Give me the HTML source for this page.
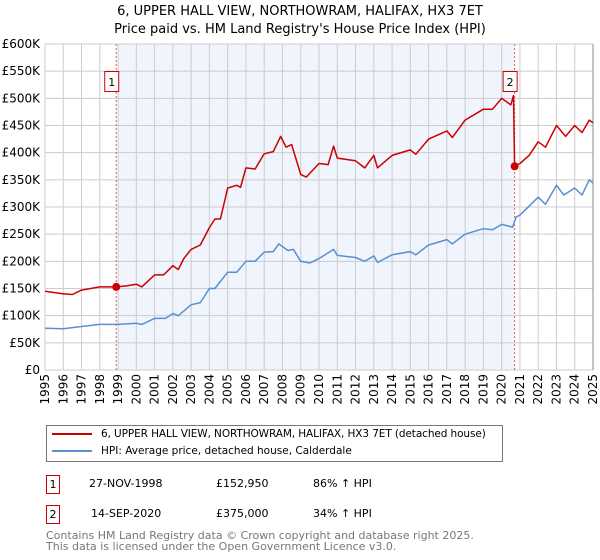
<!DOCTYPE html>
<html><head><meta charset="utf-8"><style>
body{margin:0;background:#fff;font-family:"DejaVu Sans","Liberation Sans",sans-serif;}
#wrap{position:relative;width:600px;height:560px;overflow:hidden;}
.t{position:absolute;white-space:nowrap;color:#000;}
</style></head><body>
<div id="wrap">
<div class="t" style="left:0;width:600px;text-align:center;top:3px;font-size:13px;line-height:18px;">6, UPPER HALL VIEW, NORTHOWRAM, HALIFAX, HX3 7ET<br>Price paid vs. HM Land Registry's House Price Index (HPI)</div>
<svg id="chart" width="600" height="420" style="position:absolute;left:0;top:0"></svg>
<div style="position:absolute;left:46px;top:425px;width:455px;height:35px;border:1px solid #777;">
 <div style="position:absolute;left:5px;top:2px;font-size:10.5px;white-space:nowrap;letter-spacing:-0.1px;"><span style="display:inline-block;width:40px;height:2px;background:#cc0000;vertical-align:middle;margin-right:9px"></span>6, UPPER HALL VIEW, NORTHOWRAM, HALIFAX, HX3 7ET (detached house)</div>
 <div style="position:absolute;left:5px;top:19px;font-size:10.5px;white-space:nowrap;"><span style="display:inline-block;width:40px;height:2px;background:#5b8fd0;vertical-align:middle;margin-right:9px"></span>HPI: Average price, detached house, Calderdale</div>
</div>
<div>
 <div class="t" style="left:46px;top:475px;width:12px;height:17px;border:1px solid #c00;text-align:center;font-size:11px;line-height:17px;">1</div>
 <div class="t" style="left:89px;top:477px;font-size:11px;">27-NOV-1998</div>
 <div class="t" style="left:216px;top:477px;font-size:11px;">£152,950</div>
 <div class="t" style="left:313px;top:477px;font-size:11px;">86% ↑ HPI</div>
</div>
<div>
 <div class="t" style="left:46px;top:505px;width:12px;height:17px;border:1px solid #c00;text-align:center;font-size:11px;line-height:17px;">2</div>
 <div class="t" style="left:91px;top:507px;font-size:11px;">14-SEP-2020</div>
 <div class="t" style="left:216px;top:507px;font-size:11px;">£375,000</div>
 <div class="t" style="left:313px;top:507px;font-size:11px;">34% ↑ HPI</div>
</div>
<div class="t" style="left:46px;top:530px;font-size:11px;line-height:11px;color:#777;">Contains HM Land Registry data © Crown copyright and database right 2025.<br>This data is licensed under the Open Government Licence v3.0.</div>
</div>
<script>
const yTicks=[0,50000,100000,150000,200000,250000,300000,350000,400000,450000,500000,550000,600000];
const yTickLabels=["£0","£50K","£100K","£150K","£200K","£250K","£300K","£350K","£400K","£450K","£500K","£550K","£600K"];
const years=[1995,1996,1997,1998,1999,2000,2001,2002,2003,2004,2005,2006,2007,2008,2009,2010,2011,2012,2013,2014,2015,2016,2017,2018,2019,2020,2021,2022,2023,2024,2025];
const hpiX=[1995,1996,1997,1998,1999,2000,2000.3,2001,2001.6,2002,2002.3,2003,2003.5,2004,2004.3,2005,2005.5,2006,2006.5,2007,2007.5,2007.8,2008.3,2008.6,2009,2009.5,2010,2010.8,2011,2012,2012.5,2013,2013.2,2014,2015,2015.3,2016,2017,2017.3,2018,2019,2019.5,2020,2020.6,2020.8,2021,2022,2022.4,2023,2023.4,2024,2024.4,2024.8,2025];
const hpiY=[77000,76000,80000,84000,84000,86000,84000,95000,95000,104000,100000,120000,124000,150000,150000,180000,180000,200000,200000,217000,218000,232000,220000,222000,200000,197000,205000,222000,211000,207000,200000,210000,198000,212000,218000,212000,230000,240000,232000,250000,260000,258000,268000,263000,282000,285000,318000,305000,340000,322000,335000,322000,350000,344000];
const priceX=[1995,1996,1996.5,1997,1998,1998.9,1999.5,2000,2000.3,2001,2001.5,2002,2002.3,2002.6,2003,2003.5,2004,2004.3,2004.6,2005,2005.5,2005.7,2006,2006.5,2007,2007.5,2007.9,2008.2,2008.5,2009,2009.3,2010,2010.5,2010.8,2011,2012,2012.5,2013,2013.2,2014,2015,2015.3,2016,2017,2017.3,2018,2019,2019.5,2020,2020.5,2020.65,2020.71,2021,2021.5,2022,2022.4,2023,2023.5,2024,2024.4,2024.8,2025];
const priceY=[145000,140000,139000,147000,153000,152950,155000,158000,153000,175000,175000,192000,185000,205000,222000,230000,262000,278000,278000,335000,340000,336000,372000,370000,398000,402000,430000,410000,415000,360000,355000,380000,378000,412000,390000,385000,372000,395000,372000,395000,405000,397000,425000,440000,428000,460000,480000,480000,500000,488000,505000,375000,380000,395000,420000,410000,450000,430000,450000,437000,460000,455000];
const salesX=[1998.9,2020.71];
const salesY=[152950,375000];
const salesLabel=["1","2"];

const L=45,R=593,T=44,B=370;
const X=v=>L+(v-1995)/30*(R-L);
const Y=v=>B-v/600000*(B-T);
const svg=document.getElementById('chart');
const NS='http://www.w3.org/2000/svg';
function mk(tag,attrs,parent){const e=document.createElementNS(NS,tag);for(const k in attrs)e.setAttribute(k,attrs[k]);(parent||svg).appendChild(e);return e;}
const shade=mk('rect',{x:X(salesX[0])+2,y:T,width:X(salesX[1])-X(salesX[0])-2,height:B-T,fill:'#f0f4fc'});


yTicks.forEach((v,i)=>{
 const g=mk('line',{x1:L,x2:R,y1:Y(v),y2:Y(v),stroke:'#cccccc','stroke-width':1});
 
 
 const t=mk('text',{x:L-5,y:Y(v)+4,'text-anchor':'end','font-size':12,fill:'#000'});
 t.textContent=yTickLabels[i];
 
 
});
years.forEach(yr=>{
 const g=mk('line',{x1:X(yr),x2:X(yr),y1:T,y2:B,stroke:'#cccccc','stroke-width':1});
 
 
 const t=mk('text',{x:0,y:0,'text-anchor':'end','font-size':12,fill:'#000',transform:`translate(${X(yr)+4},374) rotate(-90)`});
 t.textContent=yr;
 
 
});
const ax=mk('line',{x1:R,x2:R,y1:T,y2:B,stroke:'#888','stroke-width':1});


salesX.forEach((sx,i)=>{
 const d=mk('line',{x1:X(sx),x2:X(sx),y1:T,y2:B,stroke:'#e06060','stroke-width':1,'stroke-dasharray':'2,2'});
 
 
});
function path(xs,ys,color,name){
 const p=mk('path',{d:xs.map((x,i)=>(i?'L':'M')+X(x).toFixed(1)+','+Y(ys[i]).toFixed(1)).join(''),fill:'none',stroke:color,'stroke-width':1.5,'stroke-linejoin':'round'});
 
 
}
path(hpiX,hpiY,'#5b8fd0','hpi-line');
path(priceX,priceY,'#cc0000','property-price-line');
salesX.forEach((sx,i)=>{
 const c=mk('circle',{cx:X(sx),cy:Y(salesY[i]),r:4,fill:'#cc0000'});
 
 
 const bx=X(sx)-11;
 const r=mk('rect',{x:bx-0.5,y:71.5,width:14,height:20,fill:'#fff',stroke:'#c00','stroke-width':1});
 
 
 const t=mk('text',{x:bx+6.5,y:86,'text-anchor':'middle','font-size':11,fill:'#000'});
 t.textContent=salesLabel[i];
 
 
});
</script>
</body></html>
